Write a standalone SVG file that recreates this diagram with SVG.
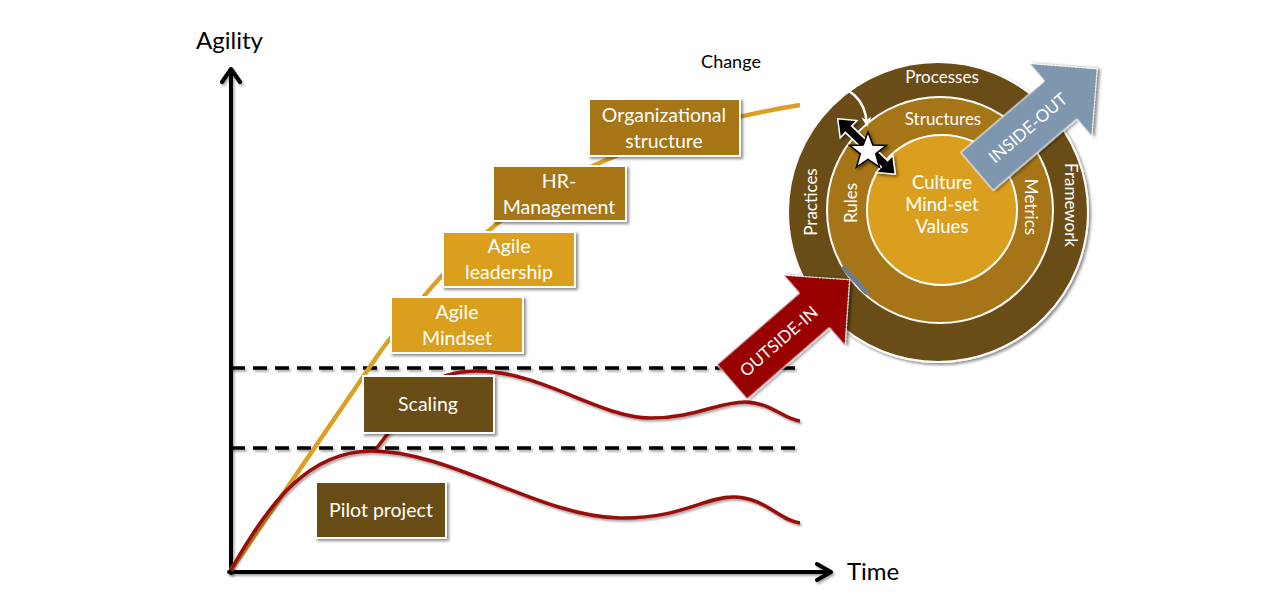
<svg xmlns="http://www.w3.org/2000/svg" width="1280" height="606" viewBox="0 0 1280 606">
<defs>
<filter id="sh" x="-20%" y="-20%" width="140%" height="140%"><feDropShadow dx="2" dy="2" stdDeviation="1.5" flood-color="#000" flood-opacity="0.45"/></filter>
<filter id="lsh" filterUnits="userSpaceOnUse" x="0" y="0" width="1280" height="606"><feDropShadow dx="1.5" dy="2" stdDeviation="1.2" flood-color="#000" flood-opacity="0.35"/></filter>
<marker id="wh" viewBox="0 0 10 10" refX="7" refY="5" markerWidth="4" markerHeight="4" orient="auto"><path d="M0,0 L10,5 L0,10 L3,5 Z" fill="#fff"/></marker>
</defs>
<style>
text{font-family:Lato,"Liberation Sans",sans-serif;}
.lbl{fill:#fff;font-size:19.5px;text-anchor:middle;}
.ct{fill:#fff;font-size:17px;text-anchor:middle;}
.cc{fill:#fff;font-size:18.5px;text-anchor:middle;}
.ax{fill:#000;font-size:24px;}
.box{stroke:#fff;stroke-width:2;filter:url(#sh);}
.dark{fill:#6B4D12;}
.mid{fill:#A57518;}
.light{fill:#DA9F1F;}
.axis{stroke:#000;stroke-width:4;fill:none;stroke-linecap:round;stroke-linejoin:round;filter:url(#lsh);}
.dash{stroke:#000;stroke-width:3.5;stroke-dasharray:14 8;fill:none;filter:url(#lsh);}
.red{stroke:#9A0A0A;stroke-width:3.5;fill:none;filter:url(#lsh);}
</style>

<g id="axes">
<path class="axis" d="M231,573 L231,70 M222,82 L231,69 L240,82"/>
<path class="axis" d="M229,572 L830,572 M817,564 L831,572 L817,580"/>
<text class="ax" x="196" y="49">Agility</text>
<text class="ax" x="847" y="580">Time</text>
</g>

<g id="connectors">
<path class="dash" d="M231,368 L803,368"/>
<path class="dash" d="M231,448 L803,448"/>
<path d="M231,570 L380,352 C430,285 480,225 560,182 C640,140 720,118 800,105" stroke="#DBA023" stroke-width="4.5" fill="none"/>
<path class="red" d="M231,570 C270,500 310,452 370,451 C450,450 540,517 620,518 C680,519 705,497 733,497 C765,497 780,521 800,523"/>
<path class="red" d="M376,449 L392,428 C410,395 430,372 475,371 C540,370 600,418 650,418 C695,418 718,402 745,402 C770,402 785,420 800,421"/>
</g>

<g id="org-structure">
<rect class="box mid" x="589" y="99" width="151" height="57"/>
<text class="lbl" x="664" y="122">Organizational</text>
<text class="lbl" x="664" y="148">structure</text>
</g>
<g id="hr-management">
<rect class="box mid" x="493" y="166" width="133" height="55"/>
<text class="lbl" x="559" y="188">HR-</text>
<text class="lbl" x="559" y="214">Management</text>
</g>
<g id="agile-leadership">
<rect class="box light" x="443" y="232" width="132" height="55"/>
<text class="lbl" x="509" y="253">Agile</text>
<text class="lbl" x="509" y="279">leadership</text>
</g>
<g id="agile-mindset">
<rect class="box light" x="391" y="297" width="132" height="56"/>
<text class="lbl" x="457" y="319">Agile</text>
<text class="lbl" x="457" y="345">Mindset</text>
</g>
<g id="scaling">
<rect class="box dark" x="363" y="376" width="131" height="57"/>
<text class="lbl" x="428" y="411">Scaling</text>
</g>
<g id="pilot-project">
<rect class="box dark" x="316" y="482" width="130" height="56"/>
<text class="lbl" x="381" y="517">Pilot project</text>
</g>

<g id="circles">
<circle cx="938" cy="212" r="150" fill="#6B4D12" stroke="#fff" stroke-width="2" filter="url(#sh)"/>
<circle cx="940" cy="210" r="113" fill="#A57518" stroke="#fff" stroke-width="2"/>
<circle cx="942" cy="210" r="75" fill="#DA9F1F" stroke="#fff" stroke-width="2"/>
<text class="ct" x="942" y="83">Processes</text>
<text class="ct" x="943" y="125">Structures</text>
<text class="cc" x="942" y="189">Culture</text>
<text class="cc" x="942" y="211">Mind-set</text>
<text class="cc" x="942" y="233">Values</text>
<text class="ct" transform="translate(817,202) rotate(-90)">Practices</text>
<text class="ct" transform="translate(857,203) rotate(-90)">Rules</text>
<text class="ct" transform="translate(1025,207) rotate(90)">Metrics</text>
<text class="ct" transform="translate(1065,205) rotate(90)">Framework</text>
</g>

<g id="inside-out" transform="translate(977,171.5) rotate(-40.5)">
<polygon points="0,-25 110,-25 110,-48 158,0 110,48 110,25 0,25" fill="#7F97AE" stroke="#fff" stroke-width="1" filter="url(#sh)"/>
<text class="ct" x="67" y="6">INSIDE-OUT</text>
</g>

<g id="outside-in" transform="translate(732,382) rotate(-41)">
<polygon points="0,-23 109,-23 109,-47 156,0 109,47 109,23 0,23" fill="#990000" stroke="#fff" stroke-width="1" filter="url(#sh)"/>
<text class="ct" x="62" y="6">OUTSIDE-IN</text>
</g>

<g id="gray-bar">
<path d="M844,268 L866,292" stroke="#6E7C8C" stroke-width="5" stroke-linecap="round"/>
</g>

<g id="change">
<text x="731" y="68" font-size="18" fill="#000" text-anchor="middle">Change</text>
<path d="M822,84 Q864,86 867,124" stroke="#fff" stroke-width="2.5" fill="none" marker-end="url(#wh)"/>
</g>

<g id="double-arrow" filter="url(#sh)">
<g transform="translate(866.5,146.5) rotate(44)">
<polygon points="-40,0 -25,-12 -25,-4.5 25,-4.5 25,-12 40,0 25,12 25,4.5 -25,4.5 -25,12" fill="#000" stroke="#fff" stroke-width="1.5"/>
</g>
<polygon points="868,132 872.8,145 886.5,145.4 875.7,153.9 879.6,167.2 868,159.5 856.4,167.2 860.3,153.9 849.5,145.4 863.2,145" fill="#fff" stroke="#000" stroke-width="1.5"/>
</g>
</svg>
